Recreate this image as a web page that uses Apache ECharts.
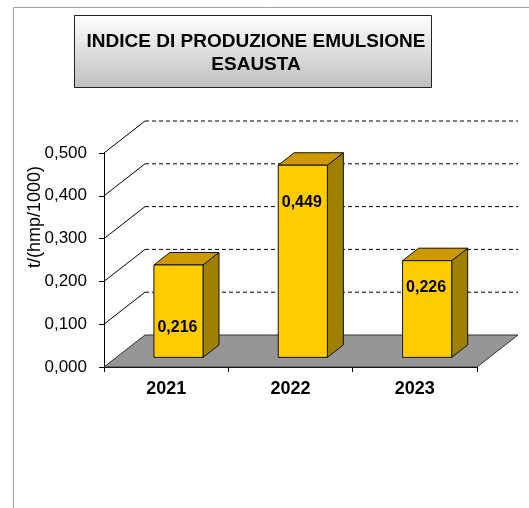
<!DOCTYPE html>
<html>
<head>
<meta charset="utf-8">
<script src="https://cdn.jsdelivr.net/npm/echarts@6/dist/echarts.min.js"></script>
<style>
  html, body { margin: 0; padding: 0; background: #fff; }
  #chart { width: 529px; height: 508px; }
</style>
</head>
<body>
<div id="chart"></div>
<script>
// dati
const years = ['2021', '2022', '2023'];
const values = [0.216, 0.449, 0.226];
const yTickValues = [0, 0.1, 0.2, 0.3, 0.4, 0.5];

// prospettiva 3D (pixel)
const DX = 41, DY = -32;
const BAR_FRONT = 0.3, BAR_DEPTH = 0.39, BAR_RATIO = 0.395;
const labelDrop = [63, 37, 27];

const fmt = v => v.toFixed(3).replace('.', ',');

const chart = echarts.init(document.getElementById('chart'));

function renderWall(params, api) {
  const cs = params.coordSys;
  const v = api.value(1);
  const p = api.coord([0, v]);
  const x0 = cs.x, x1 = cs.x + cs.width, y = p[1];
  if (v === 0) {
    // pavimento
    return {
      type: 'polygon',
      shape: { points: [[x0, y], [x1, y], [x1 + DX, y + DY], [x0 + DX, y + DY]] },
      style: { fill: '#969696', stroke: '#333', lineWidth: 1 }
    };
  }
  return {
    type: 'group',
    children: [
      { type: 'line', shape: { x1: x0, y1: y, x2: x0 + DX, y2: y + DY },
        style: { stroke: '#000', lineWidth: 1 } },
      { type: 'line', shape: { x1: x0 + DX, y1: y + DY, x2: x1 + DX, y2: y + DY },
        style: { stroke: '#000', lineWidth: 1, lineDash: [4, 3] } }
    ]
  };
}

function renderBar(params, api) {
  const i = api.value(0), v = api.value(1);
  const base = api.coord([i, 0]);
  const top = api.coord([i, v]);
  const bw = api.size([1, 0])[0] * BAR_RATIO;
  const fx = base[0] - bw / 2 + BAR_FRONT * DX;
  const yb = base[1] + BAR_FRONT * DY;
  const yt = top[1] + BAR_FRONT * DY;
  const dx = BAR_DEPTH * DX, dy = BAR_DEPTH * DY;
  const edge = { stroke: '#111', lineWidth: 1 };
  return {
    type: 'group',
    children: [
      { type: 'polygon',
        shape: { points: [[fx + bw, yt], [fx + bw + dx, yt + dy], [fx + bw + dx, yb + dy], [fx + bw, yb]] },
        style: Object.assign({ fill: '#A08000' }, edge) },
      { type: 'polygon',
        shape: { points: [[fx, yt], [fx + bw, yt], [fx + bw + dx, yt + dy], [fx + dx, yt + dy]] },
        style: Object.assign({ fill: '#CC9900' }, edge) },
      { type: 'rect', shape: { x: fx, y: yt, width: bw, height: yb - yt },
        style: Object.assign({ fill: '#FFCC00' }, edge) },
      { type: 'text', x: fx + bw / 2 - 1, y: yt + labelDrop[i],
        style: { text: fmt(v), fill: '#000', font: 'bold 16px "Liberation Sans", Arial, sans-serif',
                 align: 'center', verticalAlign: 'middle' } }
    ]
  };
}

const option = {
  animation: false,
  backgroundColor: '#fff',
  grid: { left: 104, right: 52, top: 153, bottom: 141 },
  xAxis: {
    type: 'category',
    data: years,
    axisLine: { lineStyle: { color: '#000', width: 1 } },
    axisTick: { show: true, length: 5, lineStyle: { color: '#000' } },
    axisLabel: { margin: 13, color: '#000', fontSize: 18, fontWeight: 'bold',
                 fontFamily: '"Liberation Sans", Arial, sans-serif' },
    splitLine: { show: false }
  },
  yAxis: {
    type: 'value',
    min: 0, max: 0.5, interval: 0.1,
    axisLine: { show: true, lineStyle: { color: '#000', width: 1 } },
    axisTick: { show: true, length: 5, lineStyle: { color: '#000' } },
    axisLabel: { margin: 17, color: '#000', fontSize: 17,
                 fontFamily: '"Liberation Sans", Arial, sans-serif', formatter: fmt },
    splitLine: { show: false }
  },
  graphic: [
    { type: 'rect', shape: { x: 13.5, y: 7.5, width: 700, height: 700 },
      style: { fill: 'none', stroke: '#a0a0a0', lineWidth: 1 }, silent: true },
    { type: 'rect', shape: { x: 74.5, y: 15.5, width: 357, height: 72 },
      style: {
        fill: new echarts.graphic.LinearGradient(0, 0, 0, 1, [
          { offset: 0, color: '#ffffff' }, { offset: 1, color: '#bebebe' }
        ]),
        stroke: '#222', lineWidth: 1
      } },
    { type: 'text', x: 256, y: 30,
      style: { text: 'INDICE DI PRODUZIONE EMULSIONE\nESAUSTA', fill: '#000',
               font: 'bold 19px "Liberation Sans", Arial, sans-serif', lineHeight: 23,
               align: 'center', verticalAlign: 'top' } },
    { type: 'text', x: 35, y: 217, rotation: Math.PI / 2,
      style: { text: 't/(hmp/1000)', fill: '#000',
               font: '18px "Liberation Sans", Arial, sans-serif',
               align: 'center', verticalAlign: 'middle' } }
  ],
  series: [
    { type: 'custom', renderItem: renderWall, z: 1, silent: true,
      data: yTickValues.map(v => [0, v]) },
    { type: 'custom', renderItem: renderBar, z: 3,
      data: values.map((v, i) => [i, v]) }
  ]
};

chart.setOption(option);
</script>
</body>
</html>
